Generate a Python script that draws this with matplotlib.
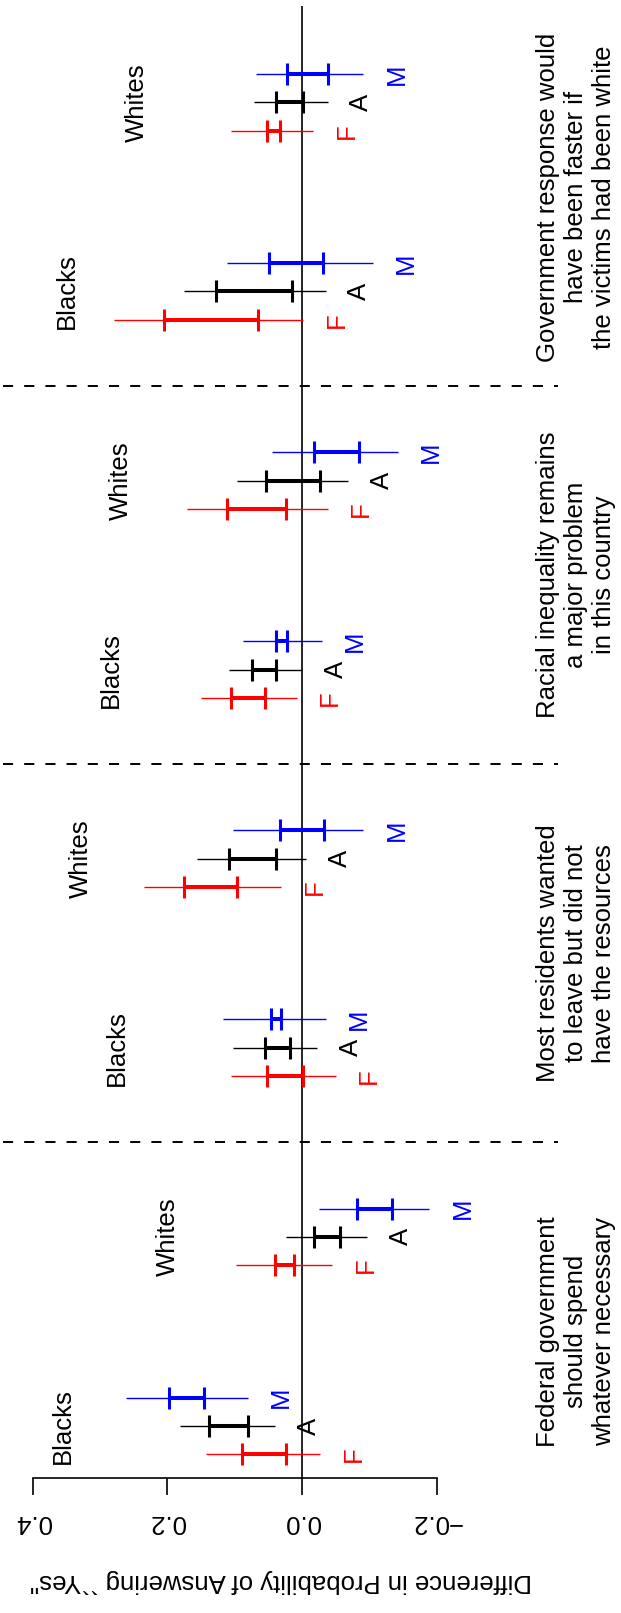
import numpy as np
import matplotlib
matplotlib.use("Agg")
import matplotlib.pyplot as plt
import matplotlib.transforms as mtransforms

plt.rcParams['font.family'] = ['Liberation Sans', 'DejaVu Sans']

questions = ["Federal government\nshould spend\nwhatever necessary",
             "Most residents wanted\nto leave but did not\nhave the resources",
             "Racial inequality remains\na major problem\nin this country",
             "Government response would\nhave been faster if\nthe victims had been white"]
races = ["Blacks", "Whites"] * 4
series = ["F", "A", "M"]
series_colors = {"F": "#ff0000", "A": "#000000", "M": "#0000ff"}

# order: Fed B, Fed W, Most B, Most W, Racial B, Racial W, Gov B, Gov W
f_hi95 = [0.143, 0.098, 0.106, 0.235, 0.150, 0.171, 0.279, 0.106]
f_hi50 = [0.089, 0.040, 0.052, 0.175, 0.106, 0.112, 0.205, 0.052]
f_lo50 = [0.024, 0.012, -0.001, 0.097, 0.055, 0.024, 0.065, 0.033]
f_lo95 = [-0.027, -0.045, -0.050, 0.031, 0.008, -0.038, -0.002, -0.016]

a_hi95 = [0.182, 0.024, 0.102, 0.156, 0.109, 0.096, 0.175, 0.072]
a_hi50 = [0.139, -0.018, 0.055, 0.109, 0.075, 0.053, 0.128, 0.038]
a_lo50 = [0.081, -0.056, 0.018, 0.039, 0.038, -0.026, 0.015, -0.002]
a_lo95 = [0.040, -0.097, -0.022, -0.006, 0.000, -0.069, -0.035, -0.038]

m_hi95 = [0.262, -0.025, 0.118, 0.102, 0.088, 0.044, 0.111, 0.069]
m_hi50 = [0.197, -0.082, 0.046, 0.033, 0.039, -0.018, 0.049, 0.022]
m_lo50 = [0.145, -0.134, 0.032, -0.032, 0.022, -0.085, -0.031, -0.039]
m_lo95 = [0.081, -0.189, -0.035, -0.091, -0.029, -0.142, -0.105, -0.091]

race_label_v = [0.356, 0.199, 0.275, 0.329, 0.284, 0.269, 0.349, 0.246]

ticks = [-0.2, 0.0, 0.2, 0.4]
tick_labels = ["\u22120.2", "0.0", "0.2", "0.4"]

intervals = {
    "F": (f_lo95, f_lo50, f_hi50, f_hi95),
    "A": (a_lo95, a_lo50, a_hi50, a_hi95),
    "M": (m_lo95, m_lo50, m_hi50, m_hi95),
}
offsets = {"F": -0.15, "A": 0.0, "M": 0.15}
fs = 18.5

fig = plt.figure(figsize=(6.21, 16.13), dpi=100)
ax = fig.add_axes([0.0053, 0.0837, 0.8939, 0.9126])

pos = np.arange(1, len(races) + 1)

ax.axvline(0, color="black", lw=1.2, zorder=1)
for d in [2.5, 4.5, 6.5]:
    ax.axhline(d, color="black", lw=1.4, ls=(0, (5.2, 5.7)))

for s in series:
    lo95, lo50, hi50, hi95 = [np.array(v) for v in intervals[s]]
    c = series_colors[s]
    y = pos + offsets[s]
    ax.hlines(y, lo95, hi95, color=c, lw=1.0, zorder=2)
    ax.hlines(y, lo50, hi50, color=c, lw=2.9, zorder=3)
    for ends in (lo50, hi50):
        ax.plot(ends, y, ls="none", marker="|", ms=15.6, mew=2.2, color=c, zorder=3)
    for i in range(len(pos)):
        ax.text(lo95[i] - 0.05, y[i], s, color=c, rotation=90,
                ha="center", va="center", fontsize=fs)

for i, r in enumerate(races):
    ax.text(race_label_v[i], pos[i], r, rotation=90, ha="center", va="center", fontsize=fs)

trans = mtransforms.blended_transform_factory(ax.transAxes, ax.transData)
for k, q in enumerate(questions):
    ax.text(1.032, 2 * k + 1.5, q, transform=trans, rotation=90, ha="center",
            va="center", multialignment="center", fontsize=fs, clip_on=False)

ax.set_xlim(0.444, -0.381)
ax.set_ylim(0.725, 8.51)
for side in ["top", "right", "left"]:
    ax.spines[side].set_visible(False)
ax.spines["bottom"].set_bounds(-0.2, 0.4)
ax.spines["bottom"].set_linewidth(1.2)
ax.set_yticks([])
ax.set_xticks(ticks)
ax.set_xticklabels(tick_labels)
ax.tick_params(axis="x", direction="out", length=12.2, width=1.2, pad=11,
               labelsize=fs, labelrotation=180)
ax.set_xlabel("Difference in Probability of Answering ``Yes''", fontsize=fs,
              rotation=180, labelpad=25)

fig.savefig("out.png", dpi=100)
